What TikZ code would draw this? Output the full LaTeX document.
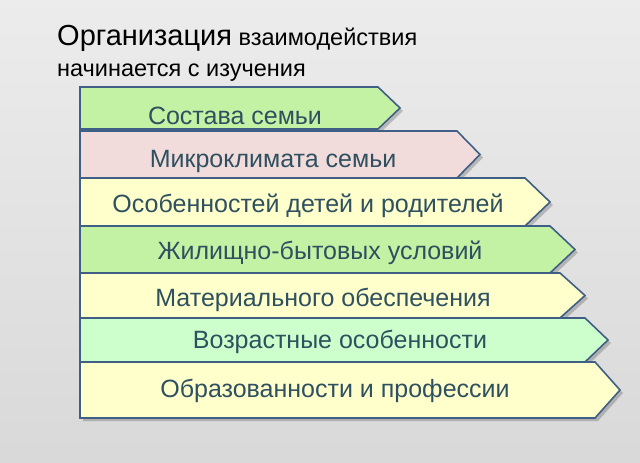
\documentclass[tikz,border=0pt]{standalone}
\usepackage{fontspec}
\setmainfont{Liberation Sans}
\definecolor{bord}{HTML}{3F5F86}
\definecolor{txt}{HTML}{2E5060}
\definecolor{gr}{HTML}{C4F2A4}
\definecolor{pk}{HTML}{F2DCDB}
\definecolor{yl}{HTML}{FFFFCC}
\definecolor{mt}{HTML}{CCFFCC}
\begin{document}
\begin{tikzpicture}[x=1pt,y=-1pt,
  arr/.style={draw=bord,line width=1.6pt,line join=miter},
  lab/.style={text=txt,font=\fontsize{25}{28}\selectfont,inner sep=0pt}]
\useasboundingbox (0,0) rectangle (640,463);
\shade[top color=white!85!gray, bottom color=white!70!gray] (0,0) rectangle (640,463);
\node[anchor=base west,inner sep=0pt,font=\fontsize{23.5}{26}\selectfont] (t1) at (57,45) {{\fontsize{29}{32}\selectfont Организация} взаимодействия};
\node[anchor=base west,inner sep=0pt,font=\fontsize{23.5}{26}\selectfont] (t2) at (57,76) {начинается с изучения};
\newcommand\shp[6]{%
 \fill[black,opacity=0.2] (83,#1+3) -- (#4+3,#1+3) -- (#5+3,{(#1+#2)/2+3}) -- (#4+3,#2+3) -- (83,#2+3) -- cycle;
 \draw[arr,fill=#3] (80,#1) -- (#4,#1) -- (#5,{(#1+#2)/2}) -- (#4,#2) -- (80,#2) -- cycle;}
\shp{87}{129}{gr}{378}{400}{}
\node[lab] (n1) at (235,116) {Состава семьи};
\shp{131}{178}{pk}{457}{480}{}
\node[lab] (n2) at (273,161) {Микроклимата семьи};
\shp{178}{226}{yl}{525}{550}{}
\node[lab] (n3) at (308,206) {Особенностей детей и родителей};
\shp{226}{273}{gr}{550}{575}{}
\node[lab] (n4) at (320,253) {Жилищно-бытовых условий};
\shp{273}{318}{yl}{560}{585}{}
\node[lab] (n5) at (323,300) {Материального обеспечения};
\shp{318}{362}{mt}{585}{608}{}
\node[lab] (n6) at (340,342) {Возрастные особенности};
\shp{362}{418}{yl}{595}{620}{}
\node[lab] (n7) at (335,391) {Образованности и профессии};
\end{tikzpicture}
\end{document}
